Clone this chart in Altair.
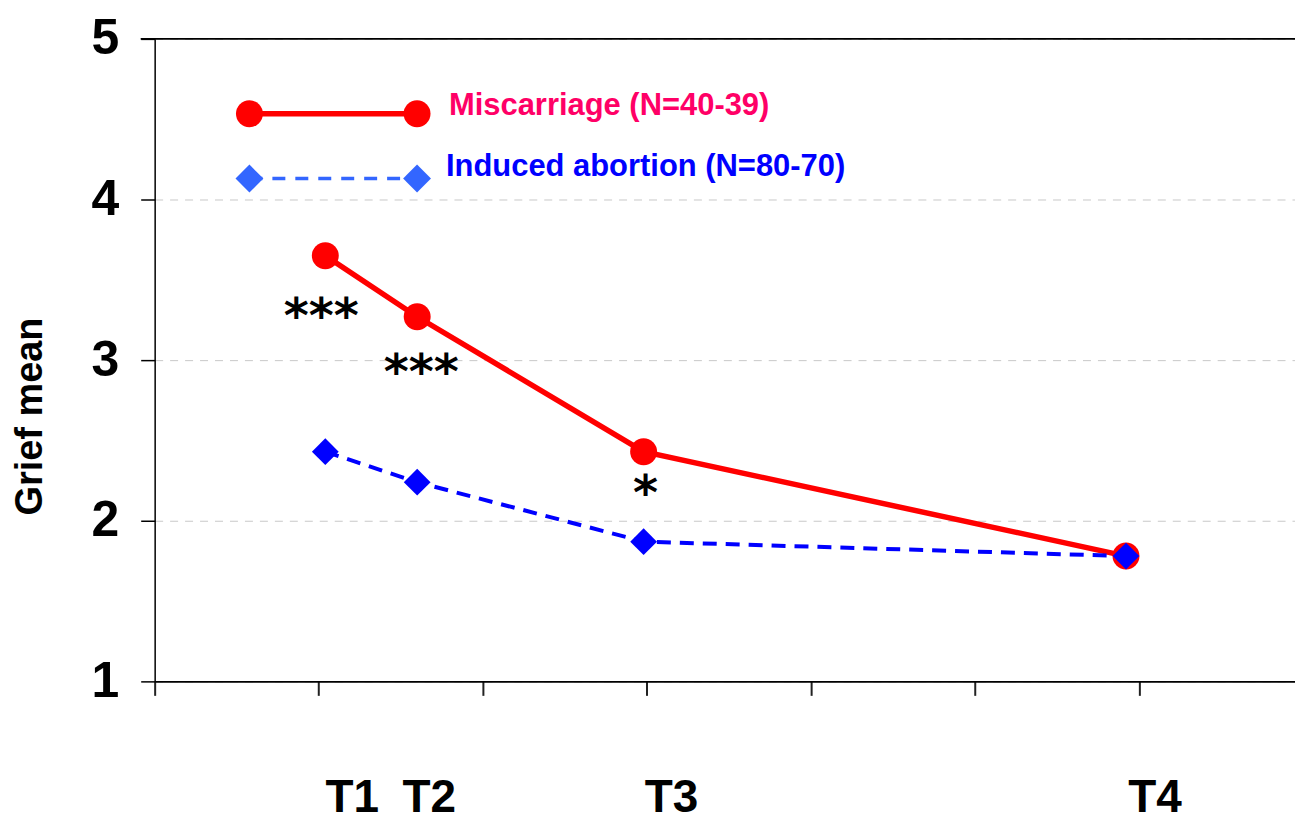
import altair as alt
import pandas as pd

# ---- data ----
times = ["T1", "T2", "T3", "T4"]
time_pos = [1.04, 1.60, 2.98, 5.92]
miscarriage = [3.65, 3.27, 2.43, 1.78]
abortion = [2.43, 2.24, 1.87, 1.78]
sig_marks = ["***", "***", "*", ""]
legend_labels = ["Miscarriage (N=40-39)", "Induced abortion (N=80-70)"]
y_ticks = [1, 2, 3, 4, 5]
x_ticks = [0, 1, 2, 3, 4, 5, 6]

W, H = 1143, 644
FONT = "Liberation Sans"

df = pd.DataFrame({"time": times, "x": time_pos, "mis": miscarriage,
                   "ab": abortion, "sig": sig_marks})

xs = alt.Scale(domain=[0, 6.95], nice=False, zero=False)
ys = alt.Scale(domain=[1, 5], nice=False, zero=False)

x_axis = alt.Axis(values=x_ticks, labels=False, title=None, grid=False,
                  domainColor="black", domainWidth=2, tickColor="#222222",
                  tickWidth=2, tickSize=14)
y_axis = alt.Axis(values=y_ticks, format="d", title="Grief mean",
                  labelFont=FONT, labelFontSize=50, labelFontWeight="bold",
                  labelColor="black", labelPadding=22, tickSize=14,
                  tickColor="black", tickWidth=1.5, domainColor="black",
                  domainWidth=1.5, grid=True, gridColor="#c8c8c8",
                  gridDash=[8, 7], gridWidth=1,
                  titleFont=FONT, titleFontSize=38, titleFontWeight="bold",
                  titleColor="black", titleAngle=270, titleX=-113, titleY=378,
                  titleAlign="center", titleBaseline="alphabetic")

X = alt.X("x:Q", scale=xs, axis=x_axis)
Y_MIS = alt.Y("mis:Q", scale=ys, axis=y_axis)
Y_AB = alt.Y("ab:Q", scale=ys, axis=y_axis)

base = alt.Chart(df)

red_line = base.mark_line(color="#FF0000", strokeWidth=5.5).encode(x=X, y=Y_MIS)
red_pts = base.mark_point(shape="circle", filled=True, size=729,
                          color="#FF0000", opacity=1).encode(x=X, y=Y_MIS)
blue_line = base.mark_line(color="#0000FF", strokeWidth=4,
                           strokeDash=[14, 9]).encode(x=X, y=Y_AB)
blue_pts = base.mark_point(shape="diamond", filled=True, size=720,
                           color="#0000FF", opacity=1).encode(x=X, y=Y_AB)

# significance stars, anchored to the miscarriage points
star_dx = [-4, 4, 2]
star_dy = [76, 71, 57]
stars = []
for i in range(3):
    stars.append(
        base.transform_filter(alt.datum.time == times[i])
        .mark_text(font="DejaVu Sans", fontSize=48, fontWeight="bold",
                   color="black", align="center", baseline="alphabetic",
                   dx=star_dx[i], dy=star_dy[i])
        .encode(x=X, y=Y_MIS, text="sig:N")
    )

# time labels under the axis
lab_dx = [27, 12, 28, 29]
tlabels = []
for i in range(4):
    tlabels.append(
        base.transform_filter(alt.datum.time == times[i])
        .mark_text(font=FONT, fontSize=46, fontWeight="bold", color="black",
                   align="center", baseline="alphabetic", dx=lab_dx[i])
        .encode(x=X, y=alt.value(775), text="time:N")
    )

# top frame line
one = alt.Chart(pd.DataFrame({"k": [0]}))
top_rule = one.mark_rule(color="black", strokeWidth=2).encode(
    x=alt.value(-14), x2=alt.value(W + 10), y=alt.value(0))

# custom legend
leg_red_line = one.mark_rule(color="#FF0000", strokeWidth=5.5).encode(
    x=alt.value(95), x2=alt.value(263), y=alt.value(75))
leg_red_p1 = one.mark_point(shape="circle", filled=True, size=729,
                            color="#FF0000", opacity=1).encode(
    x=alt.value(95), y=alt.value(75))
leg_red_p2 = one.mark_point(shape="circle", filled=True, size=729,
                            color="#FF0000", opacity=1).encode(
    x=alt.value(263), y=alt.value(75))
leg_blue_line = one.mark_rule(color="#3366FF", strokeWidth=3.5,
                              strokeDash=[13, 10]).encode(
    x=alt.value(95), x2=alt.value(263), y=alt.value(140))
leg_blue_p1 = one.mark_point(shape="diamond", filled=True, size=780,
                             color="#3366FF", opacity=1).encode(
    x=alt.value(95), y=alt.value(140))
leg_blue_p2 = one.mark_point(shape="diamond", filled=True, size=780,
                             color="#3366FF", opacity=1).encode(
    x=alt.value(263), y=alt.value(140))

leg_df = pd.DataFrame({"label": legend_labels})
leg_txt1 = alt.Chart(leg_df).transform_filter(
    alt.datum.label == legend_labels[0]).mark_text(
    font=FONT, fontSize=31, fontWeight="bold", color="#FF0066",
    align="left", baseline="middle").encode(
    x=alt.value(295), y=alt.value(67), text="label:N")
leg_txt2 = alt.Chart(leg_df).transform_filter(
    alt.datum.label == legend_labels[1]).mark_text(
    font=FONT, fontSize=31, fontWeight="bold", color="#0000FF",
    align="left", baseline="middle").encode(
    x=alt.value(292), y=alt.value(128), text="label:N")

chart = alt.layer(
    red_line, red_pts, blue_line, blue_pts, *stars, *tlabels, top_rule,
    leg_red_line, leg_red_p1, leg_red_p2,
    leg_blue_line, leg_blue_p1, leg_blue_p2, leg_txt1, leg_txt2,
).properties(
    width=W, height=H, background="white",
    autosize=alt.AutoSizeParams(type="none"),
    padding={"left": 147, "top": 30, "right": 0, "bottom": 139},
).configure_view(stroke=None)

chart.save("out.html", embed_options={"renderer": "svg", "actions": False})
